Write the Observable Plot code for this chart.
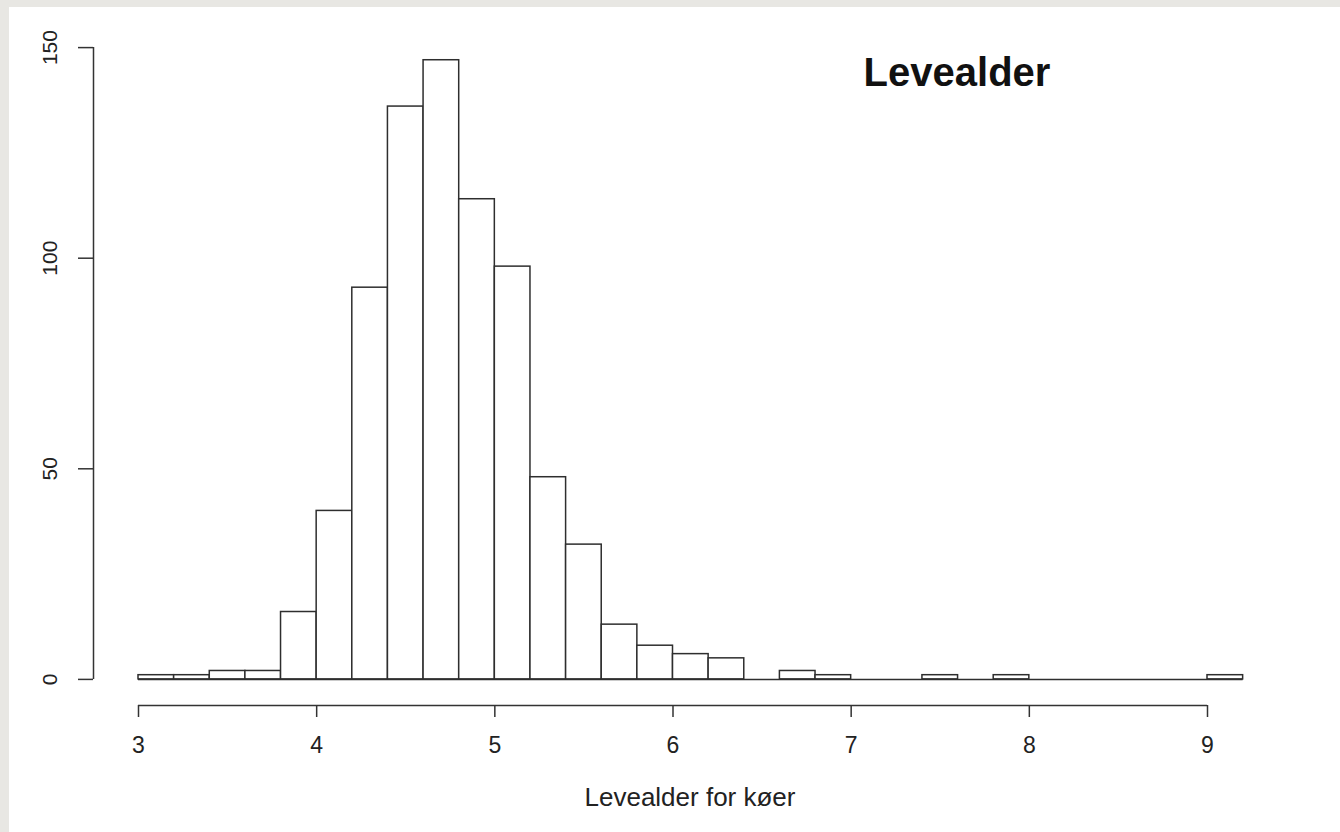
<!DOCTYPE html>
<html>
<head>
<meta charset="utf-8">
<script src="https://cdn.jsdelivr.net/npm/d3@7"></script>
<script src="https://cdn.jsdelivr.net/npm/@observablehq/plot@0.6"></script>
<style>
  html, body { margin: 0; padding: 0; width: 1340px; height: 832px; overflow: hidden; background: #e8e7e3; }
  #panel { position: absolute; left: 9px; top: 7px; width: 1331px; height: 825px; background: #ffffff; }
  #chart { position: absolute; left: 0; top: 0; }
  .lbl { position: absolute; width: 500px; text-align: center; line-height: 1; font-family: "Liberation Sans", Arial, sans-serif; color: #111; white-space: nowrap; }
  #title { font-size: 40px; font-weight: bold; left: 698px; top: 45px; }
  #xlabel { font-size: 26px; left: 431px; top: 777px; color: #222; }
</style>
</head>
<body>
<div id="panel">
  <div id="chart"></div>
  <div id="title" class="lbl"></div>
  <div id="xlabel" class="lbl"></div>
</div>
<script>
// ---- data ----
const titleText = "Levealder";
const xLabelText = "Levealder for køer";
const binLower = [3.0, 3.2, 3.4, 3.6, 3.8, 4.0, 4.2, 4.4, 4.6, 4.8, 5.0, 5.2, 5.4, 5.6, 5.8, 6.0,
                  6.2, 6.4, 6.6, 6.8, 7.0, 7.2, 7.4, 7.6, 7.8, 8.0, 8.2, 8.4, 8.6, 8.8, 9.0];
const binUpper = [3.2, 3.4, 3.6, 3.8, 4.0, 4.2, 4.4, 4.6, 4.8, 5.0, 5.2, 5.4, 5.6, 5.8, 6.0, 6.2,
                  6.4, 6.6, 6.8, 7.0, 7.2, 7.4, 7.6, 7.8, 8.0, 8.2, 8.4, 8.6, 8.8, 9.0, 9.2];
const counts   = [1, 1, 2, 2, 16, 40, 93, 136, 147, 114, 98, 48, 32, 13, 8, 6,
                  5, 0, 2, 1, 0, 0, 1, 0, 1, 0, 0, 0, 0, 0, 1];
const xTicks = [3, 4, 5, 6, 7, 8, 9];
const yTicks = [0, 50, 100, 150];

// ---- build table for the library ----
const bins = binLower.map((lo, i) => ({lo, hi: binUpper[i], count: counts[i]}));

// ---- layout ----
const W = 1331, H = 825;
const axisLineColor = "#333";
const barStroke = "#2e2e2e";
const xAxisOffset = 26;   // gap between the bar baseline and the x axis line
const yAxisOffset = 45;   // gap between x=3 and the y axis line

const chart = Plot.plot({
  width: W,
  height: H,
  marginLeft: 84,
  marginRight: 53,
  marginTop: 40,
  marginBottom: 127,
  x: {domain: [xTicks[0], xTicks[xTicks.length - 1]], range: [129, 1198]},
  y: {domain: [yTicks[0], yTicks[yTicks.length - 1]], range: [671.9, 40.1]},
  style: {fontFamily: "'Liberation Sans', Arial, sans-serif", background: "transparent", color: "#222", overflow: "visible"},
  marks: [
    Plot.rect(bins, {x1: "lo", x2: "hi", y1: () => 0, y2: "count", fill: "white", stroke: barStroke, strokeWidth: 1.5}),
    // bottom edges of all bins (zero-count bins are drawn as flat outlines)
    Plot.ruleY([{a: binLower[0], b: binUpper[binUpper.length - 1]}], {y: () => 0, x1: "a", x2: "b", stroke: barStroke, strokeWidth: 1.5}),
    // x axis line (from first to last tick)
    Plot.ruleY([{a: xTicks[0], b: xTicks[xTicks.length - 1]}], {y: () => 0, x1: "a", x2: "b", dy: xAxisOffset, stroke: axisLineColor, strokeWidth: 1.5}),
    // y axis line (from first to last tick)
    Plot.ruleX([{a: yTicks[0], b: yTicks[yTicks.length - 1]}], {x: () => xTicks[0], y1: "a", y2: "b", dx: -yAxisOffset, stroke: axisLineColor, strokeWidth: 1.5}),
    Plot.axisX({ticks: xTicks, tickSize: 12, tickPadding: 19, fontSize: 23, label: null, stroke: axisLineColor, strokeWidth: 1.5, tickFormat: d => String(d)}),
    Plot.axisY({ticks: yTicks, tickSize: 15, tickPadding: 22, tickRotate: -90, fontSize: 21, label: null, stroke: axisLineColor, strokeWidth: 1.5, tickFormat: d => String(d)})
  ]
});
document.getElementById("chart").appendChild(chart);
document.getElementById("title").textContent = titleText;
document.getElementById("xlabel").textContent = xLabelText;
</script>
</body>
</html>
